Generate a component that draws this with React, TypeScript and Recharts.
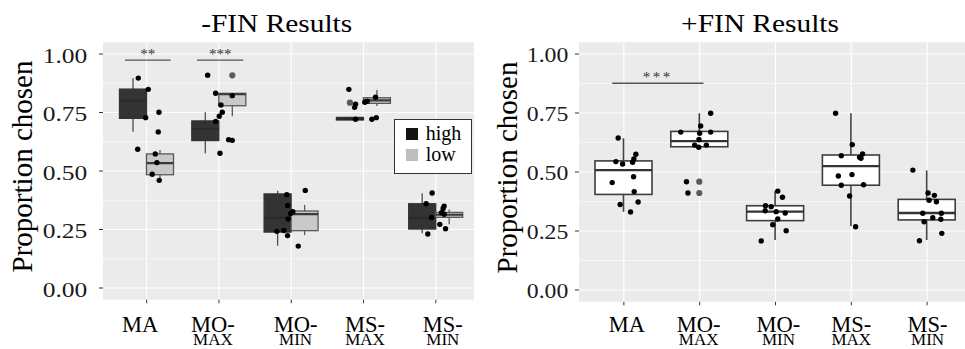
import React from 'react';
import { ComposedChart, Bar, Scatter, XAxis, YAxis, CartesianGrid, ReferenceLine, Legend } from 'recharts';

const FONT = '"Liberation Serif", "Times New Roman", Times, serif';

const categories = ['MA', 'MO-MAX', 'MO-MIN', 'MS-MAX', 'MS-MIN'];
const xTickValues = [1, 2, 3, 4, 5];
const yTicks = [0, 0.25, 0.5, 0.75, 1];
const minorTicks = [0.125, 0.375, 0.625, 0.875];

// [lower whisker, Q1, median, Q3, upper whisker]
const minusHighBoxes = [
  [0.668, 0.725, 0.8, 0.85, 0.896],
  [0.576, 0.63, 0.68, 0.714, 0.751],
  [0.181, 0.239, 0.3, 0.402, 0.416],
  [0.718, 0.718, 0.722, 0.729, 0.729],
  [0.234, 0.252, 0.3, 0.36, 0.405],
];
const minusLowBoxes = [
  [0.46, 0.484, 0.534, 0.573, 0.59],
  [0.734, 0.779, 0.828, 0.832, 0.832],
  [0.226, 0.245, 0.316, 0.329, 0.355],
  [0.778, 0.789, 0.802, 0.813, 0.846],
  [0.272, 0.302, 0.313, 0.323, 0.336],
];
const minusHighOutliers = [[], [], [], [0.792], []];
const minusLowOutliers = [[], [0.909], [], [], []];

const plusBoxes = [
  [0.332, 0.405, 0.508, 0.547, 0.643],
  [0.597, 0.607, 0.631, 0.672, 0.749],
  [0.212, 0.294, 0.332, 0.357, 0.419],
  [0.271, 0.444, 0.525, 0.572, 0.749],
  [0.212, 0.297, 0.326, 0.384, 0.506],
];
const plusOutliers = [[], [0.459, 0.411], [], [], []];

// jittered observations: [x position (category index + jitter), proportion]
const minusPoints = [
  [0.884, 0.897], [1.022, 0.849], [0.986, 0.728], [1.17, 0.751], [1.16, 0.667],
  [0.876, 0.593], [1.119, 0.573], [1.142, 0.536], [1.077, 0.486], [1.174, 0.46],
  [1.844, 0.909], [1.954, 0.832], [2.184, 0.822], [2.028, 0.782], [2.046, 0.751],
  [2.004, 0.734], [1.954, 0.712], [2.134, 0.634], [2.184, 0.631], [2.014, 0.576],
  [3.194, 0.417], [2.939, 0.399], [2.949, 0.353], [3.022, 0.326], [2.99, 0.318],
  [2.959, 0.295], [2.801, 0.242], [2.898, 0.246], [2.949, 0.224], [3.097, 0.179],
  [3.797, 0.849], [3.889, 0.785], [3.876, 0.772], [4.018, 0.794], [4.051, 0.798],
  [4.166, 0.815], [3.889, 0.721], [4.115, 0.721], [4.176, 0.728],
  [4.949, 0.406], [4.866, 0.36], [4.941, 0.301], [4.889, 0.231], [5.115, 0.35],
  [5.101, 0.34], [5.079, 0.322], [5.115, 0.315], [5.055, 0.272], [5.134, 0.253],
];
const plusPoints = [
  [0.925, 0.644], [0.895, 0.544], [0.983, 0.534], [1.158, 0.575], [1.132, 0.555],
  [1.115, 0.541], [1.128, 0.48], [0.846, 0.455], [1.136, 0.417], [1.188, 0.373],
  [0.951, 0.362], [1.088, 0.331],
  [2.145, 0.749], [2.013, 0.695], [1.75, 0.669], [2.0, 0.664], [2.145, 0.669],
  [1.991, 0.638], [1.934, 0.614], [1.987, 0.605], [2.088, 0.614], [1.826, 0.459], [1.845, 0.411],
  [3.03, 0.419], [3.092, 0.393], [2.868, 0.357], [2.943, 0.353], [2.864, 0.336],
  [3.009, 0.332], [3.128, 0.326], [3.03, 0.301], [2.964, 0.277], [3.141, 0.251], [2.812, 0.208],
  [3.793, 0.749], [4.013, 0.616], [3.868, 0.569], [4.109, 0.562], [4.149, 0.576],
  [4.128, 0.558], [3.829, 0.483], [4.009, 0.489], [3.868, 0.444], [4.162, 0.446],
  [3.978, 0.398], [4.057, 0.268],
  [4.812, 0.508], [5.013, 0.411], [5.096, 0.401], [5.026, 0.38], [5.123, 0.374],
  [4.943, 0.325], [5.188, 0.325], [5.075, 0.306], [5.181, 0.3], [4.96, 0.289],
  [5.194, 0.24], [4.899, 0.209],
];

const minusSig = [
  { x1: 0.7, x2: 1.332, y: 0.974, label: '**' },
  { x1: 1.697, x2: 2.336, y: 0.974, label: '***' },
];
const plusSig = [{ x1: 0.846, x2: 2.05, y: 0.876, label: '***' }];

const legendItems = [
  { name: 'high', color: '#141414' },
  { name: 'low', color: '#bdbdbd' },
];

// small horizontal nudges of the left panel's category labels (style only)
const leftLabelNudge = [-6.5, -6, 4.3, 1.5, 7];
const rightLabelNudge = [3, -1, 3, 0, 0.5];

const minusData = categories.map((c, i) => ({
  cat: c,
  high: [minusHighBoxes[i][0], minusHighBoxes[i][4]],
  low: [minusLowBoxes[i][0], minusLowBoxes[i][4]],
  highStats: minusHighBoxes[i],
  lowStats: minusLowBoxes[i],
  highOut: minusHighOutliers[i],
  lowOut: minusLowOutliers[i],
}));
const plusData = categories.map((c, i) => ({
  cat: c,
  box: [plusBoxes[i][0], plusBoxes[i][4]],
  stats: plusBoxes[i],
  out: plusOutliers[i],
}));
const minusScatter = minusPoints.map(([x, y]) => ({ x, y }));
const plusScatter = plusPoints.map(([x, y]) => ({ x, y }));

type BoxStyle = { fill: string; stroke: string; whisker: string; median: string; sw: number; mw: number };

const makeBoxShape = (statsKey: string, outKey: string, st: BoxStyle) => (props: any) => {
  const { x, y, width, height } = props;
  const p = props.payload || props;
  const s = p[statsKey];
  const outs: number[] = p[outKey] || [];
  if (!s || x == null || y == null) return <g />;
  const lo = s[0];
  const hi = s[4];
  const top = Math.min(y, y + height);
  const h = Math.abs(height);
  const ppu = hi - lo > 0 ? h / (hi - lo) : 0;
  const py = (v: number) => top + (hi - v) * ppu;
  const cx = x + width / 2;
  return (
    <g>
      <line x1={cx} x2={cx} y1={py(hi)} y2={py(lo)} stroke={st.whisker} strokeWidth={st.sw} />
      <rect x={x} y={py(s[3])} width={width} height={Math.max(py(s[1]) - py(s[3]), 0.5)} fill={st.fill} stroke={st.stroke} strokeWidth={st.sw} />
      <line x1={x} x2={x + width} y1={py(s[2])} y2={py(s[2])} stroke={st.median} strokeWidth={st.mw} />
      {outs.map((v, k) => (
        <circle key={k} cx={cx} cy={py(v)} r={3.1} fill="#5a5a5a" />
      ))}
    </g>
  );
};

const highShape = makeBoxShape('highStats', 'highOut', { fill: '#333333', stroke: '#333333', whisker: '#4d4d4d', median: '#2a2a2a', sw: 1.3, mw: 2 });
const lowShape = makeBoxShape('lowStats', 'lowOut', { fill: '#c9c9c9', stroke: '#595959', whisker: '#595959', median: '#3a3a3a', sw: 1.3, mw: 2.2 });
const whiteShape = makeBoxShape('stats', 'out', { fill: '#ffffff', stroke: '#3d3d3d', whisker: '#444444', median: '#333333', sw: 1.6, mw: 2.4 });

const Dot = (props: any) => <circle cx={props.cx} cy={props.cy} r={2.7} fill="#000" />;

const makeYTick = (dx: number, dy: number, fs: number, sx: number) => (props: any) => {
  const { x, y, payload } = props;
  return (
    <text transform={`translate(${x + dx},${y + dy}) scale(${sx},1)`} textAnchor="end" fontFamily={FONT} fontSize={fs} fill="#1a1a1a">
      {Number(payload.value).toFixed(2)}
    </text>
  );
};

const makeXTick = (d1: number, d2: number, nudge: number[]) => (props: any) => {
  const { x, y, payload } = props;
  const i = Math.round(payload.value) - 1;
  const label = categories[i] || '';
  const lx = x + (nudge[i] || 0);
  const idx = label.indexOf('-');
  if (idx < 0) {
    return (
      <text x={lx} y={y + d1} textAnchor="middle" fontFamily={FONT} fontSize={22.5} fill="#000">
        {label}
      </text>
    );
  }
  return (
    <g>
      <text x={lx} y={y + d1} textAnchor="middle" fontFamily={FONT} fontSize={22.5} fill="#000">
        {label.slice(0, idx + 1)}
      </text>
      <text x={lx} y={y + d2} textAnchor="middle" fontFamily={FONT} fontSize={17} fill="#000">
        {label.slice(idx + 1)}
      </text>
    </g>
  );
};

const SigLabel = (props: any) => {
  const vb = props.viewBox || {};
  if (vb.x == null) return null;
  const cx = vb.x + (vb.width || 0) / 2;
  return (
    <text x={cx} y={vb.y + props.dy} textAnchor="middle" fontFamily={FONT} fontSize={props.fs} letterSpacing={props.ls} fill="#333">
      {props.text}
    </text>
  );
};

const LegendBox = () => (
  <div style={{ width: 76, height: 52.7, border: '1px solid #333', background: '#fff', boxSizing: 'content-box', fontFamily: FONT, fontSize: 20, color: '#000' }}>
    {legendItems.map((it, i) => (
      <div key={it.name} style={{ position: 'absolute', left: 11.7, top: 9 + i * 21, display: 'flex', alignItems: 'center', height: 12, lineHeight: '12px' }}>
        <span style={{ display: 'inline-block', width: 12.3, height: 12, background: it.color }} />
        <span style={{ marginLeft: 7.4, position: 'relative', top: -1 }}>{it.name}</span>
      </div>
    ))}
  </div>
);

const yAxisTitle = 'Proportion chosen';

export default function App() {
  return (
    <div style={{ position: 'absolute', left: 0, top: 0, width: 965, height: 349, overflow: 'hidden', background: '#fff' }}>
      <div style={{ position: 'absolute', left: 0, top: 0 }}>
        <ComposedChart width={480} height={349} data={minusData} margin={{ top: 42.3, right: 6, bottom: 9.3, left: 43 }} barGap={0}>
          <CartesianGrid fill="#EBEBEB" stroke="#ffffff" strokeWidth={1.1} vertical={false} horizontalValues={yTicks} />
          <CartesianGrid stroke="#ffffff" strokeWidth={0.55} vertical={false} horizontalValues={minorTicks} />
          <CartesianGrid xAxisId="j" stroke="#ffffff" strokeWidth={1.1} horizontal={false} verticalValues={xTickValues} />
          <XAxis xAxisId={0} dataKey="cat" type="category" hide orientation="top" height={0} padding={{ left: 7.5, right: 2 }} />
          <XAxis xAxisId="j" dataKey="x" type="number" domain={[0.396, 5.528]} allowDataOverflow ticks={xTickValues} interval={0} height={40} axisLine={false} tickLine={{ stroke: '#333', strokeWidth: 1 }} tickSize={3.5} tickMargin={0} tick={makeXTick(28.5, 41.3, leftLabelNudge)} />
          <YAxis type="number" domain={[-0.05, 1.05]} allowDataOverflow ticks={yTicks} interval={0} width={60} axisLine={false} tickLine={{ stroke: '#333', strokeWidth: 1 }} tickSize={4} tickMargin={0} tick={makeYTick(-11.7, 8.5, 22, 1.16)} />
          <Bar dataKey="high" name="high" xAxisId={0} barSize={27} fill="#333333" shape={highShape} isAnimationActive={false} />
          <Bar dataKey="low" name="low" xAxisId={0} barSize={27} fill="#c9c9c9" shape={lowShape} isAnimationActive={false} />
          <Scatter data={minusScatter} dataKey="y" xAxisId="j" shape={Dot} isAnimationActive={false} />
          {minusSig.map((s, i) => (
            <ReferenceLine key={i} xAxisId="j" segment={[{ x: s.x1, y: s.y }, { x: s.x2, y: s.y }]} stroke="#555" strokeWidth={1.3} ifOverflow="visible" label={<SigLabel text={s.label} dy={-1.5} fs={15} ls={0} />} />
          ))}
          <Legend layout="vertical" align="center" verticalAlign="middle" content={LegendBox} wrapperStyle={{ position: 'absolute', left: 394.3, top: 119.3, width: 78, height: 54.7 }} />
        </ComposedChart>
      </div>
      <div style={{ position: 'absolute', left: 480, top: 0 }}>
        <ComposedChart width={485} height={349} data={plusData} margin={{ top: 42.2, right: 0, bottom: 7.2, left: 39 }}>
          <CartesianGrid fill="#EBEBEB" stroke="#ffffff" strokeWidth={1.1} vertical={false} horizontalValues={yTicks} />
          <CartesianGrid stroke="#ffffff" strokeWidth={0.55} vertical={false} horizontalValues={minorTicks} />
          <CartesianGrid xAxisId="j" stroke="#ffffff" strokeWidth={1.1} horizontal={false} verticalValues={xTickValues} />
          <XAxis xAxisId={0} dataKey="cat" type="category" hide orientation="top" height={0} padding={{ left: 7, right: 0 }} />
          <XAxis xAxisId="j" dataKey="x" type="number" domain={[0.408, 5.5]} allowDataOverflow ticks={xTickValues} interval={0} height={40} axisLine={false} tickLine={{ stroke: '#333', strokeWidth: 1 }} tickSize={3.5} tickMargin={0} tick={makeXTick(27, 39.2, rightLabelNudge)} />
          <YAxis type="number" domain={[-0.05, 1.05]} allowDataOverflow ticks={yTicks} interval={0} width={60} axisLine={false} tickLine={{ stroke: '#333', strokeWidth: 1 }} tickSize={4} tickMargin={0} tick={makeYTick(-6.7, 7.6, 21, 1.13)} />
          <Bar dataKey="box" name="box" xAxisId={0} barSize={57} fill="#ffffff" shape={whiteShape} isAnimationActive={false} />
          <Scatter data={plusScatter} dataKey="y" xAxisId="j" shape={Dot} isAnimationActive={false} />
          {plusSig.map((s, i) => (
            <ReferenceLine key={i} xAxisId="j" segment={[{ x: s.x1, y: s.y }, { x: s.x2, y: s.y }]} stroke="#555" strokeWidth={1.3} ifOverflow="visible" label={<SigLabel text={s.label} dy={-1.5} fs={15} ls={2.5} />} />
          ))}
        </ComposedChart>
      </div>
      <svg width={965} height={349} style={{ position: 'absolute', left: 0, top: 0, pointerEvents: 'none' }}>
        <text transform="translate(276.7,31.7) scale(1.2,1)" textAnchor="middle" fontFamily={FONT} fontSize={24.5} fill="#000">-FIN Results</text>
        <text transform="translate(760,32.3) scale(1.2,1)" textAnchor="middle" fontFamily={FONT} fontSize={24.5} fill="#000">+FIN Results</text>
        <text transform="translate(31.7,166.5) rotate(-90)" textAnchor="middle" fontFamily={FONT} fontSize={29} fill="#000">{yAxisTitle}</text>
        <text transform="translate(516.7,167.5) rotate(-90)" textAnchor="middle" fontFamily={FONT} fontSize={29} fill="#000">{yAxisTitle}</text>
      </svg>
    </div>
  );
}
